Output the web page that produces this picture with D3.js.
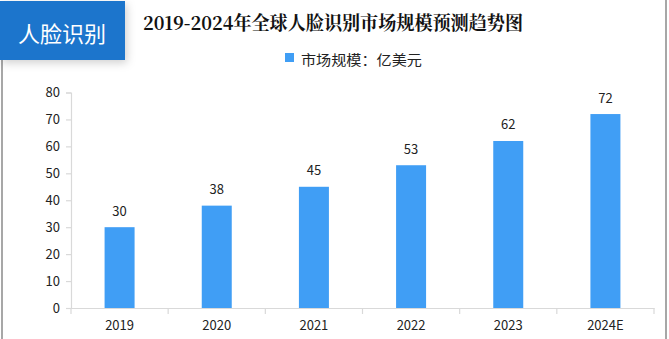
<!DOCTYPE html>
<html><head><meta charset="utf-8">
<script src="https://cdn.jsdelivr.net/npm/d3@7"></script>
<style>body{margin:0;background:#fff;}svg{display:block;}</style>
</head><body>
<svg id="c" width="669" height="339"></svg>
<script>
const categories = ["2019","2020","2021","2022","2023","2024E"];
const values = [30,38,45,53,62,72];
const yTicks = [0,10,20,30,40,50,60,70,80];
const seriesName = "市场规模：亿美元";
const title = "2019-2024年全球人脸识别市场规模预测趋势图";
const tag = "人脸识别";

const svg = d3.select("#c");
const font = "'Noto Sans CJK SC', 'Liberation Sans', sans-serif";
const defs = svg.append("defs");
const f = defs.append("filter").attr("id","sh").attr("x","-20%").attr("y","-20%").attr("width","150%").attr("height","160%");
f.append("feDropShadow").attr("dx",2).attr("dy",3).attr("stdDeviation",4).attr("flood-color","#000").attr("flood-opacity",0.18);

// frame lines
svg.append("line").attr("x1",2).attr("x2",2).attr("y1",58).attr("y2",339).attr("stroke","#8a8a8a").attr("stroke-width",1.5);
svg.append("line").attr("x1",666).attr("x2",666).attr("y1",0).attr("y2",339).attr("stroke","#8a8a8a").attr("stroke-width",1.5);

// tag box
svg.append("rect").attr("x",0).attr("y",1).attr("width",125).attr("height",59).attr("fill","#1f74cc").attr("filter","url(#sh)");
svg.append("text").attr("x",62).attr("y",32).attr("text-anchor","middle").attr("dominant-baseline","central")
  .attr("fill","#fff").attr("font-family",font).attr("font-size",22).text(tag);

// title
svg.append("text").attr("x",143).attr("y",21).attr("dominant-baseline","central")
  .attr("textLength",380).attr("lengthAdjust","spacingAndGlyphs")
  .attr("font-family","'Noto Serif CJK SC', 'Noto Sans CJK SC', serif").attr("font-weight","bold").attr("font-size",19).attr("fill","#111").text(title);

// legend
svg.append("rect").attr("x",285).attr("y",53).attr("width",9).attr("height",9).attr("fill","#409ef5");
svg.append("text").attr("x",301).attr("y",58.5).attr("dominant-baseline","central")
  .attr("textLength",121).attr("lengthAdjust","spacingAndGlyphs")
  .attr("font-family",font).attr("font-size",14).attr("fill","#222").text(seriesName);

const x = d3.scaleBand().domain(categories).range([71,654]);
const y = d3.scaleLinear().domain([0,80]).range([308,92.5]);

// axes
const xa = svg.append("g").attr("transform","translate(0,308)")
  .call(d3.axisBottom(x).tickSize(0).tickPadding(13));
xa.select(".domain").attr("stroke","#d9d9d9").attr("stroke-width",1.2);
xa.selectAll("text").attr("font-family",font).attr("font-size",13).attr("fill","#222");
// x ticks at band edges
const edges = categories.map(c=>x(c)).concat([x.range()[1]]);
svg.append("g").selectAll("line").data(edges).join("line")
  .attr("x1",d=>d).attr("x2",d=>d).attr("y1",308).attr("y2",314).attr("stroke","#d9d9d9").attr("stroke-width",1.2);

const ya = svg.append("g").attr("transform","translate(71,0)")
  .call(d3.axisLeft(y).tickValues(yTicks).tickSize(5).tickPadding(6));
ya.select(".domain").attr("stroke","#d9d9d9").attr("stroke-width",1.2);
ya.selectAll(".tick line").attr("stroke","#d9d9d9").attr("stroke-width",1.2);
ya.selectAll("text").attr("font-family",font).attr("font-size",13).attr("fill","#222");

// bars
const bw = 30;
svg.append("g").selectAll("rect").data(values).join("rect")
  .attr("x",(d,i)=>x(categories[i])+x.bandwidth()/2-bw/2)
  .attr("y",d=>y(d)).attr("width",bw).attr("height",d=>y(0)-y(d))
  .attr("fill","#409ef5");

svg.append("g").selectAll("text").data(values).join("text")
  .attr("x",(d,i)=>x(categories[i])+x.bandwidth()/2)
  .attr("y",d=>y(d)-17).attr("text-anchor","middle").attr("dominant-baseline","central")
  .attr("font-family",font).attr("font-size",13).attr("fill","#222").text(d=>d);
</script>
</body></html>
